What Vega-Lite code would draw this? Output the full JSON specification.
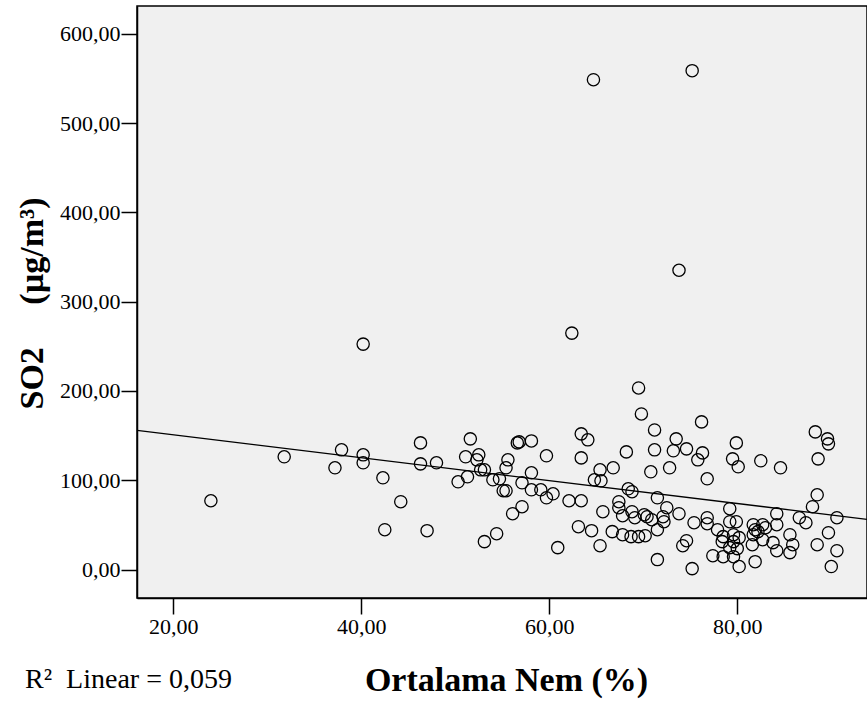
{
  "$schema": "https://vega.github.io/schema/vega-lite/v6.json",
  "width": 730,
  "height": 592,
  "autosize": {"type": "none"},
  "padding": {"left": 137, "top": 6, "right": 0, "bottom": 104},
  "background": "white",
  "config": {
    "view": {"fill": "#f0f0f0", "stroke": "black", "strokeWidth": 1.5},
    "font": "Liberation Serif"
  },
  "title": {
    "text": "R²\u00a0\u00a0Linear = 0,059",
    "orient": "bottom",
    "anchor": "start",
    "frame": "group",
    "font": "Liberation Serif",
    "fontSize": 28,
    "fontWeight": "normal",
    "color": "black",
    "dx": -112,
    "offset": -31
  },
  "datasets": {
    "pts": [
      {"nem": 24.0, "so2": 77.1}, {"nem": 31.8, "so2": 126.3}, {"nem": 37.2, "so2": 114.0}, {"nem": 37.9, "so2": 134.1},
      {"nem": 40.2, "so2": 252.5}, {"nem": 40.2, "so2": 128.5}, {"nem": 40.2, "so2": 119.6}, {"nem": 42.3, "so2": 102.8},
      {"nem": 42.5, "so2": 44.7}, {"nem": 44.2, "so2": 76.0}, {"nem": 46.3, "so2": 141.9}, {"nem": 46.3, "so2": 118.4},
      {"nem": 47.0, "so2": 43.6}, {"nem": 48.0, "so2": 119.6}, {"nem": 50.3, "so2": 98.3}, {"nem": 51.1, "so2": 126.3},
      {"nem": 51.3, "so2": 103.9}, {"nem": 51.6, "so2": 146.4}, {"nem": 52.3, "so2": 122.9}, {"nem": 52.5, "so2": 128.5},
      {"nem": 52.7, "so2": 111.7}, {"nem": 53.1, "so2": 111.7}, {"nem": 53.1, "so2": 31.3}, {"nem": 54.0, "so2": 100.6},
      {"nem": 54.4, "so2": 40.2}, {"nem": 54.7, "so2": 101.7}, {"nem": 55.1, "so2": 88.3}, {"nem": 55.4, "so2": 88.3},
      {"nem": 55.4, "so2": 114.0}, {"nem": 55.6, "so2": 122.9}, {"nem": 56.1, "so2": 62.6}, {"nem": 56.6, "so2": 141.9},
      {"nem": 56.8, "so2": 143.0}, {"nem": 57.1, "so2": 97.2}, {"nem": 57.1, "so2": 70.4}, {"nem": 58.1, "so2": 144.1},
      {"nem": 58.1, "so2": 108.4}, {"nem": 58.1, "so2": 89.4}, {"nem": 59.1, "so2": 89.4}, {"nem": 59.7, "so2": 127.4},
      {"nem": 59.7, "so2": 80.4}, {"nem": 60.4, "so2": 84.9}, {"nem": 60.9, "so2": 24.6},
      {"nem": 62.1, "so2": 77.1}, {"nem": 62.4, "so2": 264.8}, {"nem": 63.1, "so2": 48.0}, {"nem": 63.4, "so2": 152.0},
      {"nem": 63.4, "so2": 125.1}, {"nem": 63.4, "so2": 77.1}, {"nem": 64.1, "so2": 145.3}, {"nem": 64.5, "so2": 43.6},
      {"nem": 64.7, "so2": 548.6}, {"nem": 64.8, "so2": 100.6}, {"nem": 65.4, "so2": 111.7}, {"nem": 65.5, "so2": 99.4},
      {"nem": 65.4, "so2": 26.8}, {"nem": 65.7, "so2": 64.8}, {"nem": 66.8, "so2": 114.0}, {"nem": 66.7, "so2": 42.5},
      {"nem": 67.4, "so2": 76.0}, {"nem": 67.4, "so2": 69.3}, {"nem": 67.8, "so2": 60.3}, {"nem": 67.8, "so2": 39.1},
      {"nem": 68.2, "so2": 131.8}, {"nem": 68.4, "so2": 90.5}, {"nem": 68.8, "so2": 87.2}, {"nem": 68.8, "so2": 64.8},
      {"nem": 68.7, "so2": 36.9}, {"nem": 69.1, "so2": 58.1}, {"nem": 69.5, "so2": 203.4}, {"nem": 69.8, "so2": 174.3},
      {"nem": 69.5, "so2": 36.9}, {"nem": 70.1, "so2": 61.5}, {"nem": 70.4, "so2": 59.2}, {"nem": 70.2, "so2": 38.0},
      {"nem": 70.8, "so2": 109.5}, {"nem": 70.9, "so2": 55.9}, {"nem": 71.2, "so2": 156.4}, {"nem": 71.2, "so2": 134.1},
      {"nem": 71.5, "so2": 80.4}, {"nem": 71.5, "so2": 44.7}, {"nem": 71.5, "so2": 11.2}, {"nem": 72.1, "so2": 59.2},
      {"nem": 72.2, "so2": 53.6}, {"nem": 72.5, "so2": 69.3}, {"nem": 72.8, "so2": 114.0}, {"nem": 73.2, "so2": 133.0},
      {"nem": 73.5, "so2": 146.4}, {"nem": 73.8, "so2": 335.2}, {"nem": 73.8, "so2": 62.6}, {"nem": 74.2, "so2": 26.8},
      {"nem": 74.6, "so2": 32.4}, {"nem": 74.6, "so2": 135.2}, {"nem": 75.2, "so2": 558.7}, {"nem": 75.2, "so2": 1.1},
      {"nem": 75.4, "so2": 52.5}, {"nem": 75.8, "so2": 122.9}, {"nem": 76.2, "so2": 165.4}, {"nem": 76.3, "so2": 130.7},
      {"nem": 76.8, "so2": 101.7}, {"nem": 76.8, "so2": 58.1}, {"nem": 76.8, "so2": 51.4}, {"nem": 77.4, "so2": 15.6},
      {"nem": 77.9, "so2": 44.7}, {"nem": 78.4, "so2": 31.3}, {"nem": 78.5, "so2": 36.9}, {"nem": 78.5, "so2": 14.5},
      {"nem": 79.2, "so2": 68.2}, {"nem": 79.2, "so2": 53.6}, {"nem": 79.2, "so2": 24.6}, {"nem": 79.6, "so2": 39.1},
      {"nem": 79.6, "so2": 31.3}, {"nem": 79.6, "so2": 14.5}, {"nem": 79.9, "so2": 53.6}, {"nem": 79.9, "so2": 141.9},
      {"nem": 79.5, "so2": 124.0}, {"nem": 80.1, "so2": 115.1}, {"nem": 80.2, "so2": 35.8}, {"nem": 80.0, "so2": 23.5},
      {"nem": 80.2, "so2": 3.4}, {"nem": 81.7, "so2": 50.3}, {"nem": 81.9, "so2": 44.7}, {"nem": 81.7, "so2": 39.1},
      {"nem": 82.7, "so2": 50.3}, {"nem": 83.0, "so2": 46.9}, {"nem": 81.6, "so2": 27.9}, {"nem": 82.7, "so2": 33.5},
      {"nem": 81.9, "so2": 8.9}, {"nem": 82.2, "so2": 42.5}, {"nem": 82.5, "so2": 121.8}, {"nem": 84.2, "so2": 62.6},
      {"nem": 84.2, "so2": 50.3}, {"nem": 83.8, "so2": 30.2}, {"nem": 84.2, "so2": 21.2}, {"nem": 84.6, "so2": 114.0},
      {"nem": 85.6, "so2": 39.1}, {"nem": 85.9, "so2": 27.9}, {"nem": 85.6, "so2": 19.0}, {"nem": 86.6, "so2": 58.1},
      {"nem": 87.3, "so2": 52.5}, {"nem": 88.0, "so2": 70.4}, {"nem": 88.5, "so2": 83.8}, {"nem": 88.5, "so2": 27.9},
      {"nem": 88.3, "so2": 154.2}, {"nem": 89.6, "so2": 146.4}, {"nem": 89.7, "so2": 140.8}, {"nem": 88.6, "so2": 124.0},
      {"nem": 89.7, "so2": 41.3}, {"nem": 90.6, "so2": 58.1}, {"nem": 90.6, "so2": 21.2}, {"nem": 90.0, "so2": 3.4}
    ],
    "fit": [
      {"nem": 16.14, "so2": 155.9},
      {"nem": 93.8, "so2": 56.3}
    ]
  },
  "layer": [
    {
      "data": {"name": "fit"},
      "mark": {"type": "line", "color": "black", "strokeWidth": 1.3, "clip": true},
      "encoding": {
        "x": {"field": "nem", "type": "quantitative"},
        "y": {"field": "so2", "type": "quantitative"}
      }
    },
    {
      "data": {"name": "pts"},
      "mark": {"type": "point", "shape": "circle", "filled": false, "stroke": "black", "strokeWidth": 1.3, "size": 150, "opacity": 1, "clip": true},
      "encoding": {
        "x": {
          "field": "nem",
          "type": "quantitative",
          "scale": {"domain": [16.14, 93.8], "nice": false, "zero": false},
          "axis": {
            "values": [20, 40, 60, 80],
            "labelExpr": "replace(format(datum.value, '.2f'), '.', ',')",
            "grid": false,
            "domainColor": "black",
            "domainWidth": 1.5,
            "tickColor": "black",
            "tickWidth": 1.5,
            "tickSize": 16,
            "labelFont": "Liberation Serif",
            "labelFontSize": 22,
            "labelColor": "black",
            "labelPadding": 2,
            "title": "Ortalama Nem (%)",
            "titleFont": "Liberation Serif",
            "titleFontSize": 34,
            "titleFontWeight": "bold",
            "titleColor": "black",
            "titleX": 369,
            "titleY": 92,
            "titleBaseline": "alphabetic",
            "titleAnchor": "middle"
          }
        },
        "y": {
          "field": "so2",
          "type": "quantitative",
          "scale": {"domain": [-31.8, 631.1], "nice": false, "zero": false},
          "axis": {
            "values": [0, 100, 200, 300, 400, 500, 600],
            "labelExpr": "replace(format(datum.value, '.2f'), '.', ',')",
            "grid": false,
            "domainColor": "black",
            "domainWidth": 1.5,
            "tickColor": "black",
            "tickWidth": 1.5,
            "tickSize": 16,
            "labelFont": "Liberation Serif",
            "labelFontSize": 22,
            "labelColor": "black",
            "labelPadding": 1,
            "title": "SO2\u00a0\u00a0\u00a0\u00a0\u00a0(µg/m³)",
            "titleFont": "Liberation Serif",
            "titleFontSize": 34,
            "titleFontWeight": "bold",
            "titleColor": "black",
            "titleAngle": -90,
            "titleX": -95,
            "titleY": 297,
            "titleAlign": "center",
            "titleBaseline": "alphabetic",
            "titleAnchor": "middle"
          }
        }
      }
    }
  ]
}
